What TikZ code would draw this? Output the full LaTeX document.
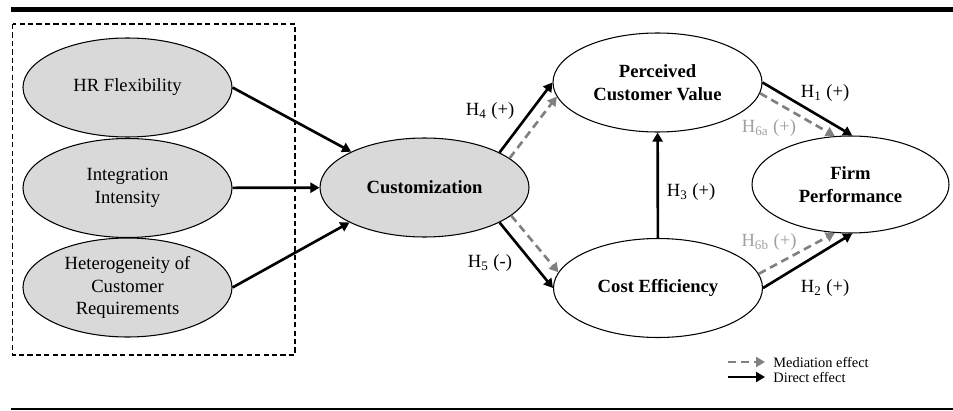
\documentclass[tikz,border=0pt]{standalone}
\usepackage{fontspec}
\setmainfont{Liberation Serif}
\usepackage{xcolor}
\usepackage{tikz}
\usetikzlibrary{shapes.geometric, arrows.meta, positioning}

\definecolor{ellgray}{RGB}{217,217,217}
\definecolor{medgray}{RGB}{128,128,128}
\definecolor{labgray}{RGB}{160,160,160}

\begin{document}
\begin{tikzpicture}[
    latent/.style={ellipse, draw=black, line width=0.6pt, inner sep=0pt, minimum width=4.18cm, minimum height=1.98cm, align=center, font=\fontsize{10.6pt}{13pt}\selectfont},
    direct/.style={-{Triangle[length=1.8mm,width=2mm]}, line width=1.5pt},
    mediate/.style={-{Triangle[length=1.8mm,width=2mm]}, line width=1.5pt, medgray, dash pattern=on 4.5pt off 2.8pt},
    hlab/.style={font=\fontsize{10.6pt}{13pt}\selectfont, inner sep=1pt},
    leglab/.style={anchor=west, inner sep=0.16cm, font=\fontsize{8.2pt}{9pt}\selectfont}
]
\useasboundingbox (0,0) rectangle (19.06,-8.2);
% rules and frame
\draw[line width=0.1cm] (0.22,-0.19) -- (19.06,-0.19);
\draw[line width=0.05cm] (0.22,-8.18) -- (19.06,-8.18);
\draw[line width=0.6pt, dash pattern=on 3pt off 1.8pt] (0.25,-0.48) rectangle (5.9,-7.1);

% antecedents
\node[latent, fill=ellgray] (hr) at (2.55,-1.75) {HR Flexibility};
\node[latent, fill=ellgray] (integ) at (2.55,-3.76) {Integration\\Intensity};
\node[latent, fill=ellgray] (hetero) at (2.55,-5.75) {Heterogeneity of\\Customer\\Requirements};
\node[latent, fill=ellgray, font=\fontsize{10.6pt}{13pt}\selectfont\bfseries] (cust) at (8.49,-3.75) {Customization};

% outcomes
\node[latent, font=\fontsize{10.6pt}{13pt}\selectfont\bfseries] (pcv) at (13.15,-1.65) {Perceived\\Customer Value};
\node[latent, font=\fontsize{10.6pt}{13pt}\selectfont\bfseries] (ce) at (13.16,-5.76) {Cost Efficiency};
\node[latent, minimum width=3.94cm, minimum height=1.94cm, font=\fontsize{10.6pt}{13pt}\selectfont\bfseries] (fp) at (17.01,-3.69) {Firm\\Performance};

% paths
\draw[direct] (hr.east) -- (cust.154);
\draw[direct] (integ) -- (cust);
\draw[direct] (hetero.east) -- (cust.205);
\draw[mediate] (cust.19) -- (pcv.188);
\draw[direct] (cust.25) -- (pcv.west);
\draw[mediate] (cust.-18) -- (ce.171);
\draw[direct] (cust.-25) -- (ce.west);
\draw[direct] (ce) -- (pcv);
\draw[mediate] (pcv.-6) -- (fp.108);
\draw[direct] (pcv.east) -- (fp.88);
\draw[mediate] (ce.8) -- (fp.-108);
\draw[direct] (ce.east) -- (fp.-88);

% hypotheses
\node[hlab] (h4) at (9.8,-2.22) {H\textsubscript{4} (+)};
\node[hlab] (h5) at (9.8,-5.26) {H\textsubscript{5} (-)};
\node[hlab] (h3) at (13.82,-3.84) {H\textsubscript{3} (+)};
\node[hlab] (h1) at (16.5,-1.86) {H\textsubscript{1} (+)};
\node[hlab] (h2) at (16.5,-5.76) {H\textsubscript{2} (+)};
\node[hlab, labgray] (h6a) at (15.38,-2.56) {H\textsubscript{6a} (+)};
\node[hlab, labgray] (h6b) at (15.38,-4.84) {H\textsubscript{6b} (+)};

% legend
\node[leglab] (medlab) at (15.3,-7.24) {Mediation effect};
\node[leglab] (dirlab) at (15.3,-7.54) {Direct effect};
\coordinate (medstart) at (14.56,-7.24);
\coordinate (dirstart) at (14.56,-7.54);
\draw[mediate] (medstart) -- (medlab.west);
\draw[direct] (dirstart) -- (dirlab.west);
\end{tikzpicture}
\end{document}
